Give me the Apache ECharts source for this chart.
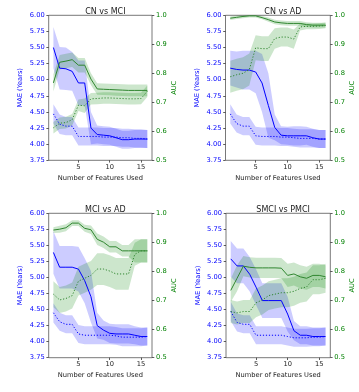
<!DOCTYPE html>
<html><head><meta charset="utf-8">
<script src="https://cdn.jsdelivr.net/npm/echarts@6/dist/echarts.min.js"></script>
<style>html,body{margin:0;padding:0;background:#fff}#c{width:359px;height:392px}</style>
</head><body><div id="c"></div>
<script>
const xs = [1,2,3,4,5,6,7,8,9,10,11,12,13,14,15,16];
const titles = ['CN vs MCI','CN vs AD','MCI vs AD','SMCI vs PMCI'];
const xTicks = [5,10,15];

// CN vs MCI
const p1MaeSolid = [5.50,5.18,5.17,5.13,4.95,4.95,4.25,4.15,4.14,4.13,4.10,4.07,4.07,4.08,4.08,4.08];
const p1MaeSolidStd = [0.32,0.33,0.33,0.30,0.35,0.35,0.25,0.14,0.14,0.14,0.14,0.14,0.14,0.14,0.14,0.14];
const p1MaeDotted = [4.47,4.31,4.28,4.28,4.12,4.12,4.12,4.12,4.11,4.11,4.11,4.10,4.10,4.09,4.09,4.08];
const p1MaeDottedStd = [0.15,0.15,0.14,0.14,0.14,0.14,0.14,0.14,0.14,0.14,0.14,0.14,0.14,0.14,0.14,0.14];
const p1AucSolid = [0.767,0.838,0.842,0.847,0.828,0.828,0.780,0.746,0.745,0.744,0.743,0.742,0.741,0.741,0.741,0.741];
const p1AucSolidStd = [0.03,0.025,0.025,0.025,0.025,0.025,0.02,0.02,0.02,0.02,0.02,0.02,0.02,0.02,0.02,0.02];
const p1AucDotted = [0.612,0.628,0.630,0.640,0.690,0.688,0.712,0.713,0.715,0.715,0.714,0.713,0.712,0.712,0.713,0.738];
const p1AucDottedStd = [0.02,0.02,0.02,0.02,0.02,0.025,0.02,0.02,0.02,0.02,0.02,0.02,0.02,0.02,0.02,0.02];

// CN vs AD
const p2MaeSolid = [5.18,5.16,5.15,5.15,5.12,4.95,4.60,4.26,4.14,4.13,4.13,4.13,4.13,4.10,4.08,4.08];
const p2MaeSolidStd = [0.27,0.28,0.30,0.30,0.33,0.45,0.50,0.20,0.14,0.14,0.15,0.15,0.14,0.14,0.14,0.14];
const p2MaeDotted = [4.47,4.32,4.28,4.28,4.13,4.12,4.12,4.12,4.11,4.11,4.10,4.09,4.09,4.09,4.08,4.08];
const p2MaeDottedStd = [0.15,0.14,0.14,0.14,0.14,0.14,0.14,0.14,0.14,0.14,0.14,0.14,0.14,0.14,0.14,0.14];
const p2AucSolid = [0.990,0.993,0.996,0.998,0.998,0.992,0.985,0.977,0.974,0.972,0.972,0.972,0.968,0.966,0.966,0.966];
const p2AucSolidStd = [0.006,0.006,0.006,0.006,0.006,0.006,0.007,0.008,0.008,0.008,0.008,0.008,0.008,0.008,0.008,0.008];
const p2AucDotted = [0.788,0.795,0.800,0.813,0.888,0.885,0.885,0.920,0.925,0.925,0.918,0.960,0.962,0.962,0.963,0.965];
const p2AucDottedStd = [0.055,0.055,0.055,0.055,0.043,0.043,0.043,0.035,0.033,0.033,0.033,0.012,0.01,0.01,0.01,0.01];

// MCI vs AD
const p3MaeSolid = [5.39,5.16,5.16,5.16,5.13,4.95,4.70,4.25,4.18,4.13,4.12,4.12,4.12,4.10,4.08,4.08];
const p3MaeSolidStd = [0.33,0.33,0.33,0.33,0.35,0.35,0.40,0.20,0.15,0.15,0.15,0.15,0.15,0.14,0.14,0.14];
const p3MaeDotted = [4.45,4.31,4.27,4.27,4.12,4.10,4.10,4.10,4.10,4.10,4.09,4.07,4.07,4.07,4.07,4.08];
const p3MaeDottedStd = [0.15,0.14,0.14,0.14,0.14,0.14,0.14,0.14,0.14,0.14,0.14,0.14,0.14,0.14,0.14,0.14];
const p3AucSolid = [0.942,0.945,0.950,0.966,0.966,0.948,0.943,0.910,0.900,0.884,0.884,0.870,0.870,0.870,0.870,0.870];
const p3AucSolidStd = [0.01,0.012,0.012,0.01,0.01,0.012,0.015,0.02,0.02,0.02,0.02,0.02,0.02,0.04,0.04,0.04];
const p3AucDotted = [0.720,0.700,0.705,0.715,0.765,0.775,0.785,0.807,0.807,0.800,0.790,0.790,0.790,0.858,0.870,0.870];
const p3AucDottedStd = [0.045,0.045,0.045,0.045,0.05,0.05,0.05,0.055,0.055,0.055,0.055,0.055,0.055,0.04,0.04,0.04];

// SMCI vs PMCI
const p4MaeSolid = [5.29,5.18,5.18,5.05,4.85,4.64,4.64,4.64,4.64,4.43,4.17,4.10,4.10,4.08,4.08,4.08];
const p4MaeSolidStd = [0.28,0.27,0.27,0.27,0.28,0.27,0.27,0.27,0.27,0.27,0.15,0.14,0.14,0.14,0.14,0.14];
const p4MaeDotted = [4.47,4.30,4.27,4.27,4.10,4.10,4.10,4.10,4.10,4.08,4.06,4.06,4.06,4.07,4.07,4.08];
const p4MaeDottedStd = [0.15,0.14,0.14,0.14,0.14,0.14,0.14,0.14,0.14,0.14,0.14,0.14,0.14,0.14,0.14,0.14];
const p4AucSolid = [0.733,0.775,0.817,0.813,0.811,0.811,0.811,0.811,0.810,0.785,0.790,0.780,0.775,0.785,0.785,0.780];
const p4AucSolidStd = [0.04,0.045,0.035,0.035,0.035,0.035,0.035,0.035,0.035,0.04,0.04,0.04,0.04,0.04,0.04,0.04];
const p4AucDotted = [0.660,0.655,0.660,0.660,0.690,0.700,0.715,0.720,0.725,0.725,0.730,0.740,0.745,0.770,0.770,0.775];
const p4AucDottedStd = [0.04,0.04,0.04,0.04,0.05,0.05,0.05,0.05,0.05,0.05,0.05,0.05,0.05,0.05,0.05,0.05];

const panels = [
  {mS:p1MaeSolid,mSs:p1MaeSolidStd,mD:p1MaeDotted,mDs:p1MaeDottedStd,aS:p1AucSolid,aSs:p1AucSolidStd,aD:p1AucDotted,aDs:p1AucDottedStd},
  {mS:p2MaeSolid,mSs:p2MaeSolidStd,mD:p2MaeDotted,mDs:p2MaeDottedStd,aS:p2AucSolid,aSs:p2AucSolidStd,aD:p2AucDotted,aDs:p2AucDottedStd},
  {mS:p3MaeSolid,mSs:p3MaeSolidStd,mD:p3MaeDotted,mDs:p3MaeDottedStd,aS:p3AucSolid,aSs:p3AucSolidStd,aD:p3AucDotted,aDs:p3AucDottedStd},
  {mS:p4MaeSolid,mSs:p4MaeSolidStd,mD:p4MaeDotted,mDs:p4MaeDottedStd,aS:p4AucSolid,aSs:p4AucSolidStd,aD:p4AucDotted,aDs:p4AucDottedStd}
];

const grids = [
  {left:48.7, top:15.3, width:103.3, height:145},
  {left:225.5, top:15.3, width:104.8, height:145},
  {left:48.7, top:213.3, width:103.3, height:144.4},
  {left:226, top:213.3, width:104.3, height:144.4}
];

const FONT = 'DejaVu Sans';
const BLUE = '#0000ff';
const GREEN = '#008000';
const GLINE = '#2f862f';
const BAND_B = 'rgba(0,0,255,0.2)';
const BAND_G = 'rgba(0,128,0,0.2)';
const FS = 6.7;

const option = {animation:false, backgroundColor:'#fff', title:[], grid:[], xAxis:[], yAxis:[], series:[]};

grids.forEach((g,i)=>{
  option.grid.push(Object.assign({show:true, borderColor:'#555', borderWidth:0.8, backgroundColor:'transparent'}, g));
  option.title.push({text:titles[i], left:g.left+g.width/2, top:g.top-12.5, textAlign:'center',
    textStyle:{fontFamily:FONT, fontSize:8, fontWeight:'normal', color:'#222'}});
  option.xAxis.push({type:'value', gridIndex:i, min:0.25, max:16.75,
    name:'Number of Features Used', nameLocation:'middle', nameGap:14.5,
    nameTextStyle:{fontFamily:FONT, fontSize:FS, color:'#222'},
    axisLine:{show:false}, splitLine:{show:false},
    axisTick:{show:true, length:2.3, lineStyle:{color:'#333', width:0.8}, customValues:xTicks},
    axisLabel:{fontFamily:FONT, fontSize:FS, color:'#222', margin:3.5, customValues:xTicks}
  });
  option.yAxis.push({type:'value', gridIndex:i, position:'left', min:3.75, max:6.0, interval:0.25,
    name:'MAE (Years)', nameLocation:'middle', nameGap:24.5, nameRotate:90,
    nameTextStyle:{fontFamily:FONT, fontSize:FS, color:BLUE},
    axisLine:{show:false}, splitLine:{show:false},
    axisTick:{show:true, length:2.3, lineStyle:{color:'#333', width:0.8}},
    axisLabel:{fontFamily:FONT, fontSize:FS, color:BLUE, margin:4, formatter:v=>v.toFixed(2)}
  });
  option.yAxis.push({type:'value', gridIndex:i, position:'right', min:0.5, max:1.0, interval:0.1,
    name:'AUC', nameLocation:'middle', nameGap:16, nameRotate:90,
    nameTextStyle:{fontFamily:FONT, fontSize:FS, color:GREEN},
    axisLine:{show:false}, splitLine:{show:false},
    axisTick:{show:true, length:2.3, lineStyle:{color:'#333', width:0.8}},
    axisLabel:{fontFamily:FONT, fontSize:FS, color:GREEN, margin:4, formatter:v=>v.toFixed(1)}
  });

  const p = panels[i];
  const yL = 2*i, yR = 2*i+1;
  function band(mean, std, yIdx, color){
    const data = xs.map((x,k)=>[x, mean[k]-std[k], mean[k]+std[k]]);
    option.series.push({type:'custom', xAxisIndex:i, yAxisIndex:yIdx, data:data, silent:true, clip:true,
      encode:{x:0, y:[1,2]},
      renderItem:function(params, api){
        if (params.dataIndex !== 0) return null;
        const up = data.map(d=>api.coord([d[0], d[2]]));
        const lo = data.map(d=>api.coord([d[0], d[1]])).reverse();
        return {type:'polygon', shape:{points: up.concat(lo)}, style:{fill:color, stroke:null}};
      }
    });
  }
  function line(mean, yIdx, color, dotted){
    option.series.push({type:'line', xAxisIndex:i, yAxisIndex:yIdx, data:xs.map((x,k)=>[x,mean[k]]),
      symbol:'none', lineStyle:{color:color, width:1, type: dotted ? [1.2,1.8] : 'solid'}, silent:true});
  }
  band(p.mS, p.mSs, yL, BAND_B);
  line(p.mS, yL, BLUE, false);
  band(p.mD, p.mDs, yL, BAND_B);
  line(p.mD, yL, BLUE, true);
  band(p.aS, p.aSs, yR, BAND_G);
  line(p.aS, yR, GLINE, false);
  band(p.aD, p.aDs, yR, BAND_G);
  line(p.aD, yR, GLINE, true);
});

const chart = echarts.init(document.getElementById('c'), null, {renderer:'canvas'});
chart.setOption(option);
</script></body></html>
